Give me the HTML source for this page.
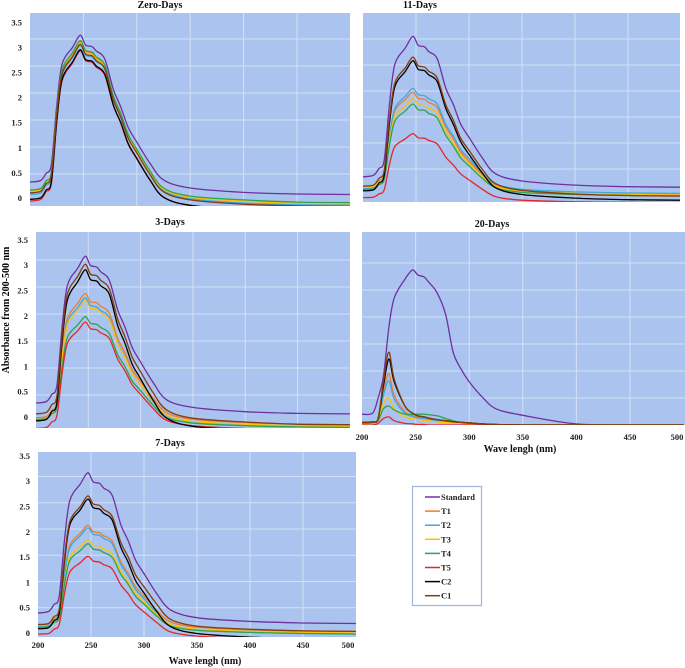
<!DOCTYPE html>
<html><head><meta charset="utf-8">
<style>
html,body{margin:0;padding:0;background:#fff;}
svg{display:block;font-family:"Liberation Serif",serif;font-weight:bold;}
</style></head>
<body>
<svg id="chart" width="685" height="668" viewBox="0 0 685 668" xmlns="http://www.w3.org/2000/svg">
<text transform="translate(9,310) rotate(-90)" text-anchor="middle" font-size="10">Absorbance from 200-500 nm</text>
</svg>
<script>
const waves = [200,210,215,220,225,230,240,247,252,258,262,270,278,285,292,300,312,325,350,400,450,500];
const seriesNames = ["Standard","T1","T2","T3","T4","T5","C2","C1"];
const xTicks = [200,250,300,350,400,450,500];
const yTicks = [0,0.5,1,1.5,2,2.5,3,3.5];
const yTickLabels = ["0","0.5","1","1.5","2","2.5","3","3.5"];

// Zero-Days
const d0Standard = [.35,.38,.51,.68,1.76,2.53,2.85,3.07,2.89,2.86,2.78,2.63,2.07,1.74,1.36,1.09,.71,.39,.24,.16,.13,.12];
const d0T1 = [.2,.23,.37,.53,1.63,2.4,2.73,2.95,2.77,2.74,2.65,2.5,1.93,1.6,1.21,.94,.55,.22,.07,0,-.04,-.05];
const d0T2 = [.12,.15,.29,.45,1.56,2.33,2.66,2.88,2.7,2.67,2.58,2.44,1.87,1.55,1.16,.9,.51,.19,.04,-.04,-.07,-.08];
const d0T3 = [.18,.21,.35,.51,1.61,2.38,2.71,2.93,2.75,2.72,2.63,2.48,1.92,1.59,1.2,.93,.55,.22,.07,0,-.04,-.05];
const d0T4 = [.2,.23,.37,.53,1.64,2.42,2.75,2.97,2.79,2.76,2.67,2.52,1.95,1.62,1.23,.96,.57,.24,.09,.02,-.02,-.03];
const d0T5 = [0,.03,.17,.33,1.45,2.22,2.56,2.78,2.6,2.57,2.48,2.33,1.77,1.44,1.05,.78,.4,.07,-.08,-.16,-.19,-.2];
const d0C2 = [.03,.06,.2,.36,1.47,2.25,2.58,2.8,2.62,2.59,2.5,2.35,1.78,1.45,1.06,.79,.4,.07,-.08,-.16,-.19,-.2];
const d0C1 = [.15,.18,.32,.48,1.58,2.35,2.68,2.9,2.72,2.69,2.6,2.45,1.88,1.55,1.16,.89,.5,.17,.02,-.06,-.09,-.1];
// 11-Days
const d11Standard = [.35,.38,.51,.67,1.75,2.51,2.83,3.05,2.88,2.85,2.76,2.62,2.06,1.75,1.37,1.11,.73,.41,.27,.19,.16,.15];
const d11T1 = [.17,.19,.28,.39,1.11,1.62,1.84,1.98,1.86,1.84,1.78,1.68,1.31,1.09,.83,.65,.4,.18,.08,.03,.01,0];
const d11T2 = [.12,.14,.24,.35,1.12,1.66,1.9,2.05,1.93,1.91,1.85,1.75,1.36,1.14,.88,.7,.43,.21,.11,.06,.04,.03];
const d11T3 = [.15,.17,.25,.35,1.03,1.51,1.71,1.85,1.74,1.72,1.67,1.57,1.22,1.02,.78,.61,.37,.17,.07,.03,.01,0];
const d11T4 = [.1,.12,.2,.3,.96,1.42,1.62,1.75,1.64,1.63,1.57,1.48,1.15,.95,.72,.56,.33,.14,.05,.01,-.01,-.02];
const d11T5 = [-.05,-.04,.02,.1,.59,.93,1.08,1.18,1.1,1.09,1.05,.98,.73,.58,.41,.29,.12,-.03,-.1,-.13,-.14,-.15];
const d11C2 = [.08,.1,.23,.38,1.38,2.08,2.38,2.58,2.42,2.39,2.31,2.18,1.67,1.37,1.03,.78,.44,.14,.01,-.06,-.09,-.1];
const d11C1 = [.17,.19,.32,.47,1.46,2.15,2.45,2.65,2.49,2.46,2.38,2.25,1.74,1.45,1.1,.86,.51,.22,.09,.02,-.01,-.02];
// 3-Days
const d3Standard = [.35,.38,.51,.68,1.76,2.53,2.85,3.07,2.9,2.87,2.78,2.63,2.08,1.76,1.38,1.11,.73,.41,.27,.19,.16,.15];
const d3T1 = [.08,.1,.22,.36,1.28,1.92,2.2,2.38,2.23,2.21,2.14,2.02,1.55,1.29,.97,.75,.44,.17,.05,-.01,-.04,-.05];
const d3T2 = [.06,.08,.19,.33,1.22,1.85,2.12,2.3,2.16,2.13,2.06,1.94,1.48,1.22,.91,.69,.38,.12,0,-.06,-.09,-.1];
const d3T3 = [.05,.07,.18,.31,1.19,1.81,2.07,2.25,2.11,2.09,2.02,1.9,1.46,1.2,.9,.69,.39,.13,.01,-.04,-.07,-.08];
const d3T4 = [.04,.06,.15,.27,1.03,1.57,1.8,1.95,1.83,1.81,1.75,1.64,1.25,1.03,.76,.58,.31,.08,-.02,-.07,-.09,-.1];
const d3T5 = [-.12,-.1,0,.12,.9,1.46,1.69,1.85,1.73,1.71,1.65,1.55,1.17,.95,.69,.51,.25,.03,-.07,-.12,-.14,-.15];
const d3C2 = [.02,.05,.19,.36,1.48,2.26,2.6,2.82,2.64,2.61,2.52,2.37,1.79,1.46,1.07,.8,.4,.07,-.08,-.15,-.18,-.2];
const d3C1 = [.15,.18,.32,.48,1.59,2.37,2.7,2.92,2.74,2.71,2.62,2.47,1.91,1.58,1.2,.93,.54,.22,.07,0,-.04,-.05];
// 20-Days
const d20Standard = [.2,.22,.5,.9,1.8,2.35,2.7,2.87,2.78,2.74,2.65,2.45,2.05,1.35,1.05,.8,.52,.3,.18,.02,0,0];
const d20T1 = [.03,.04,.1,.6,.95,.55,.25,.18,.15,.13,.11,.09,.07,.05,.04,.03,.02,.01,0,0,0,0];
const d20T2 = [.03,.04,.1,.55,.82,.48,.22,.16,.13,.12,.1,.08,.06,.05,.04,.03,.02,.01,0,0,0,0];
const d20T3 = [.02,.03,.08,.4,.5,.3,.15,.12,.1,.09,.08,.06,.05,.04,.03,.02,.01,0,0,0,0,0];
const d20T4 = [.03,.04,.08,.3,.35,.28,.2,.2,.2,.2,.19,.17,.12,.08,.05,.03,.02,.01,0,0,0,0];
const d20T5 = [0,0,.03,.12,.15,.08,.03,.02,.01,.01,0,0,0,0,0,0,0,0,0,0,0,0];
const d20C2 = [.05,.06,.12,.72,1.22,.8,.35,.22,.17,.15,.13,.1,.08,.06,.05,.04,.02,.01,0,0,0,0];
const d20C1 = [.05,.06,.12,.8,1.35,.85,.35,.22,.17,.15,.13,.1,.08,.06,.05,.04,.02,.01,0,0,0,0];
// 7-Days
const d7Standard = [.4,.43,.56,.72,1.79,2.54,2.86,3.07,2.9,2.87,2.78,2.64,2.09,1.78,1.41,1.15,.77,.46,.31,.24,.21,.2];
const d7T1 = [.18,.2,.29,.41,1.16,1.69,1.92,2.07,1.95,1.93,1.87,1.77,1.38,1.16,.9,.72,.45,.23,.13,.08,.06,.05];
const d7T2 = [.14,.16,.25,.37,1.12,1.64,1.87,2.02,1.9,1.88,1.82,1.72,1.33,1.11,.85,.67,.4,.18,.08,.03,.01,0];
const d7T3 = [.12,.14,.22,.32,.99,1.46,1.67,1.8,1.69,1.68,1.62,1.53,1.19,.99,.77,.61,.38,.18,.09,.05,.03,.02];
const d7T4 = [.12,.14,.22,.31,.95,1.4,1.59,1.72,1.62,1.6,1.55,1.46,1.14,.95,.72,.57,.34,.15,.07,.03,.01,0];
const d7T5 = [0,.01,.09,.18,.77,1.18,1.36,1.48,1.39,1.37,1.32,1.24,.94,.77,.56,.42,.22,.04,-.04,-.08,-.09,-.1];
const d7C2 = [.1,.12,.25,.4,1.38,2.08,2.37,2.57,2.41,2.38,2.3,2.17,1.66,1.37,1.02,.78,.43,.14,.01,-.06,-.09,-.1];
const d7C1 = [.18,.2,.33,.47,1.45,2.14,2.43,2.63,2.48,2.45,2.37,2.24,1.75,1.47,1.13,.9,.57,.28,.15,.09,.06,.05];

const colors = ["#7030A0","#ED7D31","#3DA9E0","#FFC000","#2DA44E","#E5262B","#000000","#843C0C"];
const NS = "http://www.w3.org/2000/svg";
const svg = document.getElementById("chart");
function mk(tag, attrs, parent){
  const e = document.createElementNS(NS, tag);
  for (const k in attrs) e.setAttribute(k, attrs[k]);
  (parent||svg).appendChild(e);
  return e;
}
function smoothPath(pts){
  let d = "M" + pts[0][0].toFixed(1) + "," + pts[0][1].toFixed(1);
  for (let i = 0; i < pts.length - 1; i++) {
    const p0 = pts[Math.max(0, i-1)], p1 = pts[i], p2 = pts[i+1], p3 = pts[Math.min(pts.length-1, i+2)];
    const t = 0.16;
    const c1x = p1[0] + (p2[0]-p0[0]) * t, c1y = p1[1] + (p2[1]-p0[1]) * t;
    const c2x = p2[0] - (p3[0]-p1[0]) * t, c2y = p2[1] - (p3[1]-p1[1]) * t;
    d += "C" + c1x.toFixed(1) + "," + c1y.toFixed(1) + " " + c2x.toFixed(1) + "," + c2y.toFixed(1) + " " + p2[0].toFixed(1) + "," + p2[1].toFixed(1);
  }
  return d;
}
const panels = [
  {id:"zero-days", title:"Zero-Days", tx:160, ty:8, L:30, R:350, T:13, B:206, pxPer50:53.4, y0:201, k:54, data:[d0Standard,d0T1,d0T2,d0T3,d0T4,d0T5,d0C2,d0C1], ylab:{x:22, base:198, step:25.1}, xlab:null},
  {id:"11-days", title:"11-Days", tx:420, ty:8, L:363, R:680, T:13, B:202, pxPer50:53, y0:195, k:52, data:[d11Standard,d11T1,d11T2,d11T3,d11T4,d11T5,d11C2,d11C1], ylab:null, xlab:null},
  {id:"3-days", title:"3-Days", tx:170, ty:225, L:36, R:350, T:232, B:428, pxPer50:52.3, y0:422, k:54, data:[d3Standard,d3T1,d3T2,d3T3,d3T4,d3T5,d3C2,d3C1], ylab:{x:28, base:417, step:25.3}, xlab:null},
  {id:"20-days", title:"20-Days", tx:492, ty:227, L:362, R:685, T:232, B:425, pxPer50:53.6, y0:425, k:54, data:[d20Standard,d20T1,d20T2,d20T3,d20T4,d20T5,d20C2,d20C1], ylab:null, xlab:{y:440, ty:452, tx:520}},
  {id:"7-days", title:"7-Days", tx:170, ty:446, L:38, R:356, T:452, B:637, pxPer50:53, y0:634, k:52.5, data:[d7Standard,d7T1,d7T2,d7T3,d7T4,d7T5,d7C2,d7C1], ylab:{x:30, base:633, step:25.3}, xlab:{y:648, ty:664, tx:205}}
];
panels.forEach(p => {
  const g = mk("g", {});
  
  
  const xs = w => p.L + (w - 200) / 50 * p.pxPer50;
  const ys = v => p.y0 - v * p.k;
  const bg = mk("rect", {x:p.L, y:p.T, width:p.R-p.L, height:p.B-p.T, fill:"#AAC4EF"}, g);
  
  
  const clipId = "clip-" + p.id;
  const cp = mk("clipPath", {id:clipId}, g);
  mk("rect", {x:p.L, y:p.T, width:p.R-p.L, height:p.B-p.T}, cp);
  xTicks.forEach(t => {
    if (t === 200 || t === 500) return;
    const gl = mk("line", {x1:xs(t), x2:xs(t), y1:p.T, y2:p.B, stroke:"#D4E0F6", "stroke-width":1}, g);
    
    
  });
  yTicks.forEach(t => {
    if (t === 0 || t === 3.5) return;
    const gl = mk("line", {x1:p.L, x2:p.R, y1:ys(t), y2:ys(t), stroke:"#D4E0F6", "stroke-width":1}, g);
    
    
  });
  const tt = mk("text", {x:p.tx, y:p.ty, "text-anchor":"middle", "font-size":10, fill:"#111"}, g);
  tt.textContent = p.title;
  
  
  const sg = mk("g", {"clip-path":"url(#"+clipId+")"}, g);
  p.data.forEach((arr, i) => {
    const pts = arr.map((v, j) => [xs(waves[j]), ys(v)]);
    const path = mk("path", {d:smoothPath(pts), fill:"none", stroke:colors[i], "stroke-width":1.3, "stroke-linejoin":"round"}, sg);
    
    
  });
  if (p.ylab) {
    yTicks.forEach((t, i) => {
      const lt = mk("text", {x:p.ylab.x, y:p.ylab.base - i * p.ylab.step + 3, "text-anchor":"end", "font-size":8.5, fill:"#222"}, g);
      lt.textContent = yTickLabels[i];
      
      
    });
  }
  if (p.xlab) {
    xTicks.forEach(t => {
      const lt = mk("text", {x:Math.min(xs(t), p.R - 8), y:p.xlab.y, "text-anchor":"middle", "font-size":8.5, fill:"#222"}, g);
      lt.textContent = String(t);
      
      
    });
    const at = mk("text", {x:p.xlab.tx, y:p.xlab.ty, "text-anchor":"middle", "font-size":10, fill:"#111"}, g);
    at.textContent = "Wave lengh  (nm)";
    
    
  }
});
// legend
const lg = mk("g", {});


mk("rect", {x:412.5, y:486.5, width:69, height:119, fill:"#fff", stroke:"#9DB6DE", "stroke-width":1.2}, lg);
seriesNames.forEach((n, i) => {
  const y = 497 + i * 14.1;
  const ln = mk("line", {x1:425, x2:440, y1:y, y2:y, stroke:colors[i], "stroke-width":1.5}, lg);
  
  
  const t = mk("text", {x:441, y:y + 3, "font-size":8.5, fill:"#222"}, lg);
  t.textContent = n;
  
  
});
</script>
</body></html>
